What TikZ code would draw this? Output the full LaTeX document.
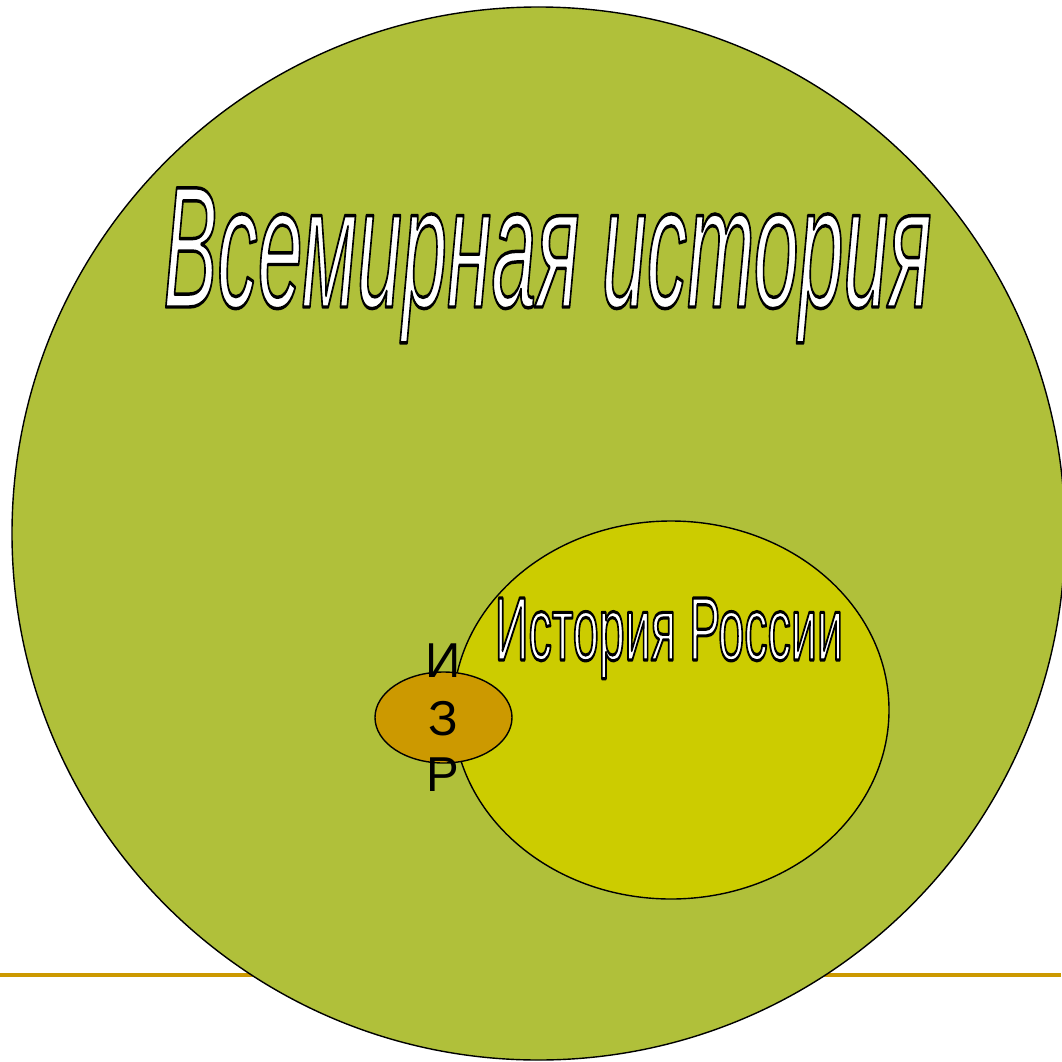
\documentclass[tikz,border=0pt]{standalone}
\usepackage{fontspec}
\setmainfont{Liberation Sans}
\usepackage{graphicx}
\definecolor{worldgreen}{RGB}{176,192,58}
\definecolor{russiayellow}{RGB}{204,204,0}
\definecolor{izrorange}{RGB}{204,153,0}
\newcommand{\outlined}[2]{\special{pdf:bcolor [1 1 1] [0 0 0]}\special{pdf:literal direct 2 Tr #1 w 1 j}#2\special{pdf:literal direct 0 Tr}\special{pdf:ecolor}}
\begin{document}
\begin{tikzpicture}[x=1pt,y=-1pt,
        outline/.style={inner sep=0pt,anchor=base},
        letter/.style={inner sep=0pt,anchor=base,font=\fontsize{49}{57}\selectfont}]
        \useasboundingbox (0,0) rectangle (1061,1062);
        \draw[izrorange,line width=4pt] (0,975)--(1061,975);
        \draw[fill=worldgreen,line width=1.4pt] (538.5,533.5) circle (526.5);
        \draw[fill=russiayellow,line width=1.4pt] (671,710) ellipse (218 and 189);
        \draw[fill=izrorange,line width=1.4pt] (443.5,717.5) ellipse (68.5 and 45.5);
        \node[outline] (world) at (547.5,307) {\resizebox{768pt}{119pt}{\outlined{0.2}{\itshape Всемирная история}}};
        \node[outline] (russia) at (669,660) {\resizebox{348pt}{62pt}{\outlined{0.35}{История России}}};
        \node[letter] (izr-i) at (443,677) {И};
        \node[letter] (izr-z) at (443,735) {З};
        \node[letter] (izr-r) at (443,791) {Р};
        \end{tikzpicture}
\end{document}
